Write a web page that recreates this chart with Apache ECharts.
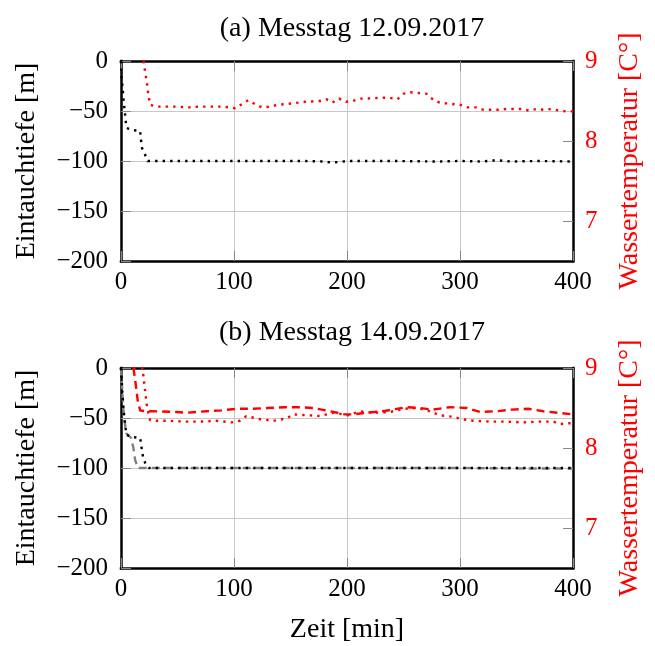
<!DOCTYPE html>
<html>
<head>
<meta charset="utf-8">
<script src="https://cdn.jsdelivr.net/npm/echarts@6/dist/echarts.min.js"></script>
<style>html,body{margin:0;padding:0;background:#fff;}#c{width:655px;height:646px;}</style>
</head>
<body>
<div id="c"></div>
<script>
// ---- data ----
const titles = ['(a) Messtag 12.09.2017', '(b) Messtag 14.09.2017'];
const xTicks = [0, 100, 200, 300, 400];
const depthTicks = [0, -50, -100, -150, -200];
const tempTicks = [7, 8, 9];

// (a) depth, black dotted
const aDepthT = [0, 0.6, 1.5, 2, 2.7, 3.5, 4.1, 5, 10, 17, 17.7, 18.6, 21, 23.6, 40, 80, 120, 160, 180, 186, 193, 200, 240, 280, 300, 320, 328, 335, 345, 370, 400];
const aDepth  = [0, -19, -27, -36, -44, -52, -60, -67, -69, -70, -79, -87, -93, -100, -100, -100, -100, -100, -100.5, -101.5, -101, -100, -100, -100.5, -100, -100.5, -99.5, -99.5, -100.5, -100, -100.5];
// (a) temperature, red dotted
const aTempT = [20, 21, 22.7, 24.5, 26, 32, 39, 50, 60, 70, 80, 90, 101, 112.7, 118.6, 125, 132, 138, 151, 163, 176, 182, 187, 193, 199, 205, 211, 217, 231, 238, 244.5, 250, 256, 263, 270.5, 276, 282, 288, 294.7, 300.6, 307, 314, 320.6, 334, 341, 348.7, 355, 361, 368, 374, 381, 388, 394, 400];
const aTemp  = [9.0, 8.9, 8.75, 8.55, 8.45, 8.43, 8.43, 8.43, 8.42, 8.43, 8.43, 8.43, 8.41, 8.51, 8.46, 8.42, 8.43, 8.45, 8.47, 8.49, 8.50, 8.52, 8.48, 8.53, 8.49, 8.50, 8.53, 8.53, 8.54, 8.54, 8.52, 8.59, 8.61, 8.60, 8.59, 8.52, 8.48, 8.47, 8.46, 8.45, 8.42, 8.42, 8.39, 8.39, 8.40, 8.40, 8.40, 8.38, 8.40, 8.39, 8.40, 8.38, 8.37, 8.37];

// (b) depth, black dotted
const bDepthT = [0, 1, 2, 3, 4, 5, 10, 17, 18, 19, 20, 22.5, 25, 60, 120, 180, 240, 300, 360, 400];
const bDepth  = [0, -20, -38, -50, -60, -67, -69, -70, -78, -86, -91, -98, -100, -100, -100, -100, -100, -100, -100, -100];
// (b) depth, gray dashed
const bDepth2T = [0, 1, 2, 3.5, 4.5, 9, 11, 12.5, 15, 60, 120, 180, 240, 300, 360, 400];
const bDepth2  = [0, -20, -40, -55, -65, -70, -80, -92, -100, -100, -100, -100, -100, -100, -100.5, -100.5];
// (b) temperature, red dotted
const bTempT = [11, 19, 20, 21.5, 23, 24.8, 25.7, 31, 40, 56.6, 70, 84, 98, 105, 111, 123, 135, 146.6, 152.5, 164, 176, 188, 201, 211.5, 223, 238, 250, 263, 273, 282, 294, 301.5, 312, 326.5, 341, 356, 371, 382.6, 388.5, 397, 400];
const bTemp  = [9.0, 9.0, 8.88, 8.69, 8.52, 8.40, 8.35, 8.34, 8.34, 8.33, 8.33, 8.34, 8.32, 8.34, 8.40, 8.36, 8.34, 8.37, 8.42, 8.41, 8.40, 8.44, 8.41, 8.46, 8.44, 8.45, 8.49, 8.50, 8.46, 8.41, 8.39, 8.36, 8.34, 8.33, 8.33, 8.32, 8.33, 8.33, 8.30, 8.31, 8.31];
// (b) temperature, red dashed
const bTemp2T = [11, 13, 15, 17, 22, 26, 49, 58, 76, 89, 102, 117, 130, 145, 158, 170, 185, 198, 205.6, 217, 232, 252.6, 264.6, 276, 291, 306, 317.7, 332.5, 345.8, 360.5, 373.7, 387, 400];
const bTemp2  = [9.0, 8.8, 8.57, 8.47, 8.46, 8.46, 8.45, 8.44, 8.46, 8.47, 8.49, 8.49, 8.50, 8.51, 8.51, 8.50, 8.46, 8.42, 8.42, 8.44, 8.46, 8.51, 8.50, 8.48, 8.51, 8.50, 8.45, 8.46, 8.48, 8.49, 8.46, 8.44, 8.42];

// ---- build ----
const zip = (xs, ys) => xs.map((x, i) => [x, ys[i]]);
const FONT = 'Liberation Serif';
const gridTops = [61, 368];
const PL = 121, PW = 452, PH = 200;
const DOT = [2.4, 5.1], DASH = [8, 5];
const minus = v => (v < 0 ? '\u2212' + Math.abs(v) : String(v));
const frame = {show: true, onZero: false, lineStyle: {color: '#000', width: 2.5, cap: 'square'}};
const tick = (extra) => Object.assign({show: true, inside: true, length: 10, lineStyle: {color: '#888', width: 1}}, extra || {});

const grids = [], xAxes = [], yAxes = [], titleArr = [];
gridTops.forEach((top, g) => {
  grids.push({left: PL, top: top, width: PW, height: PH, show: false});
  titleArr.push({text: titles[g], left: PL + PW / 2, top: top - (g === 0 ? 51 : 54), textAlign: 'center',
    textStyle: {fontFamily: FONT, fontSize: 28, fontWeight: 'normal', color: '#000'}});
  xAxes.push({type: 'value', gridIndex: g, position: 'bottom', min: xTicks[0], max: xTicks[xTicks.length - 1], interval: 100,
    axisLine: frame, axisTick: tick(),
    axisLabel: {fontFamily: FONT, fontSize: 25, color: '#000', margin: 9},
    splitLine: {show: true, lineStyle: {color: '#c8c8c8', width: 1}},
    name: g === 1 ? 'Zeit [min]' : '', nameLocation: 'middle', nameGap: 48,
    nameTextStyle: {fontFamily: FONT, fontSize: 28, color: '#000'}});
  xAxes.push({type: 'value', gridIndex: g, position: 'top', min: xTicks[0], max: xTicks[xTicks.length - 1], interval: 100,
    axisLine: frame, axisTick: tick(),
    axisLabel: {show: false}, splitLine: {show: false}});
  yAxes.push({type: 'value', gridIndex: g, position: 'left', min: depthTicks[depthTicks.length - 1], max: depthTicks[0], interval: 50,
    axisLine: frame, axisTick: tick(),
    axisLabel: {fontFamily: FONT, fontSize: 25, color: '#000', margin: 13, formatter: minus},
    splitLine: {show: true, lineStyle: {color: '#c8c8c8', width: 1}},
    name: 'Eintauchtiefe [m]', nameLocation: 'middle', nameGap: 80, nameRotate: 90,
    nameTextStyle: {fontFamily: FONT, fontSize: 28, color: '#000'}});
  yAxes.push({type: 'value', gridIndex: g, position: 'right', min: 6.5, max: 9,
    axisLine: frame, axisTick: tick({customValues: tempTicks}),
    axisLabel: {fontFamily: FONT, fontSize: 25, color: '#ff0000', margin: 12, customValues: tempTicks},
    splitLine: {show: false},
    name: 'Wassertemperatur [C°]', nameLocation: 'middle', nameGap: 43, nameRotate: 90,
    nameTextStyle: {fontFamily: FONT, fontSize: 28, color: '#ff0000'}});
});

const line = (data, xi, yi, color, dash, z) => ({
  type: 'line', xAxisIndex: xi, yAxisIndex: yi, data: data, showSymbol: false, symbol: 'none',
  z: z || 2, clip: true,
  lineStyle: {color: color, width: 2.4, type: dash, cap: 'butt', join: 'miter'}
});

const series = [
  line(zip(aDepthT, aDepth), 0, 0, '#000', DOT),
  line(zip(aTempT, aTemp), 0, 1, '#ff0000', DOT),
  line(zip(bDepth2T, bDepth2), 2, 2, '#808080', DASH),
  line(zip(bDepthT, bDepth), 2, 2, '#000', DOT, 3),
  line(zip(bTemp2T, bTemp2), 2, 3, '#ff0000', DASH),
  line(zip(bTempT, bTemp), 2, 3, '#ff0000', DOT, 3)
];

const chart = echarts.init(document.getElementById('c'), null, {renderer: 'canvas'});
chart.setOption({
  animation: false,
  backgroundColor: '#fff',
  title: titleArr,
  grid: grids,
  xAxis: xAxes,
  yAxis: yAxes,
  series: series
});
</script>
</body>
</html>
